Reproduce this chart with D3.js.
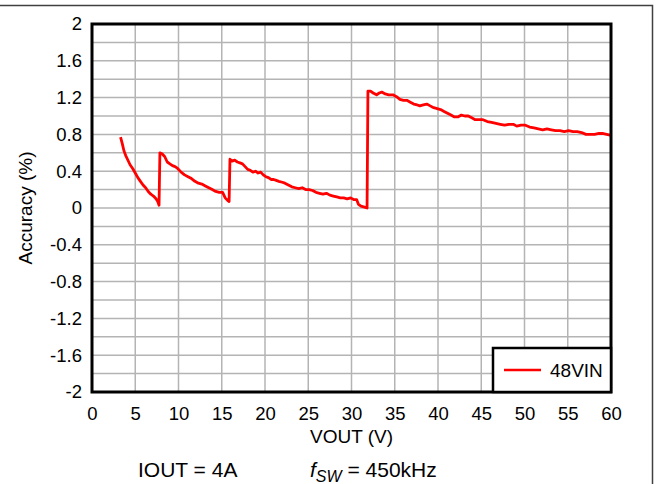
<!DOCTYPE html>
<html>
<head>
<meta charset="utf-8">
<script src="https://cdn.jsdelivr.net/npm/d3@7"></script>
<style>
  body { margin: 0; background: #fff; }
  svg text { font-family: "Liberation Sans", Arial, sans-serif; fill: #000; }
</style>
</head>
<body>
<div id="chart"></div>
<script>
// data
const vout = [3.3, 3.5, 3.7, 3.9, 4.1, 4.4, 4.7, 5.0, 5.3, 5.6, 5.9, 6.2, 6.5, 6.8, 7.1, 7.4, 7.6, 7.75,
  7.85, 8.1, 8.4, 8.7, 9.0, 9.3, 9.6, 9.9, 10.3, 10.7, 11.1, 11.5, 11.9, 12.3, 12.7, 13.1, 13.5, 13.9, 14.3, 14.7, 15.1, 15.4, 15.7, 15.85,
  15.95, 16.2, 16.5, 16.8, 17.1, 17.4, 17.7, 18.0, 18.3, 18.6, 18.9, 19.2, 19.5, 19.8, 20.1, 20.4, 20.7, 21.0, 21.3, 21.6, 22.0, 22.3, 22.7,
  23.1, 23.5, 23.9, 24.3, 24.7, 25.1, 25.5, 25.9, 26.3, 26.7, 27.1, 27.5, 27.9, 28.3, 28.7, 29.1, 29.5, 29.9, 30.3, 30.6, 30.8, 31.1, 31.5, 31.8,
  31.9, 32.2, 32.5, 32.9, 33.2, 33.5, 33.9, 34.3, 34.8, 35.2, 35.6, 36.0, 36.4, 36.8, 37.2, 37.6, 37.9, 38.3, 38.7, 39.1, 39.5, 39.9, 40.3,
  40.7, 41.1, 41.5, 41.9, 42.3, 42.7, 43.1, 43.5, 43.9, 44.3, 44.7, 45.2, 45.7, 46.2, 46.7, 47.2, 47.7, 48.2, 48.7, 49.1, 49.6, 50.1, 50.6,
  51.1, 51.6, 52.1, 52.6, 53.1, 53.6, 54.1, 54.6, 55.1, 55.6, 56.1, 56.6, 57.1, 57.6, 58.1, 58.6, 59.0, 59.5, 60];
const accuracy48 = [0.77, 0.70, 0.62, 0.57, 0.53, 0.47, 0.43, 0.38, 0.33, 0.29, 0.25, 0.22, 0.18, 0.15, 0.13, 0.10, 0.07, 0.03,
  0.60, 0.59, 0.56, 0.50, 0.48, 0.46, 0.45, 0.43, 0.39, 0.36, 0.34, 0.32, 0.29, 0.27, 0.26, 0.24, 0.22, 0.20, 0.18, 0.17, 0.17, 0.11, 0.08, 0.07,
  0.53, 0.51, 0.52, 0.50, 0.49, 0.48, 0.45, 0.42, 0.41, 0.39, 0.40, 0.38, 0.39, 0.36, 0.34, 0.33, 0.31, 0.31, 0.30, 0.29, 0.28, 0.27, 0.25,
  0.23, 0.22, 0.21, 0.22, 0.20, 0.20, 0.19, 0.17, 0.16, 0.15, 0.16, 0.14, 0.13, 0.12, 0.11, 0.11, 0.10, 0.11, 0.09, 0.09, 0.04, 0.02, 0.01, 0.00,
  1.27, 1.27, 1.25, 1.23, 1.25, 1.26, 1.24, 1.23, 1.23, 1.21, 1.18, 1.17, 1.17, 1.15, 1.13, 1.12, 1.11, 1.12, 1.13, 1.11, 1.09, 1.08, 1.07,
  1.05, 1.03, 1.01, 0.99, 0.99, 1.01, 1.00, 1.00, 0.98, 0.96, 0.96, 0.96, 0.94, 0.93, 0.92, 0.91, 0.90, 0.91, 0.91, 0.89, 0.90, 0.90, 0.88,
  0.87, 0.86, 0.85, 0.86, 0.85, 0.84, 0.84, 0.83, 0.84, 0.83, 0.83, 0.82, 0.80, 0.80, 0.80, 0.81, 0.81, 0.80, 0.79];
const xTicks = [0, 5, 10, 15, 20, 25, 30, 35, 40, 45, 50, 55, 60];
const yTicks = [-2, -1.6, -1.2, -0.8, -0.4, 0, 0.4, 0.8, 1.2, 1.6, 2];
const yGrid = d3.range(-20, 21, 2).map(v => v / 10);
const seriesName = '48VIN';

const W = 656, H = 484;
const margin = {top: 24, right: 45, bottom: 92, left: 92};
const width = W - margin.left - margin.right;
const height = H - margin.top - margin.bottom;
const FONT = '"Liberation Sans", Arial, sans-serif';

const svg = d3.select('#chart').append('svg')
  .attr('width', W).attr('height', H);

// outer frame (top and right edges only)
svg.append('path')
  .attr('d', `M0,5.5 H652.5 V${H}`)
  .attr('fill', 'none').attr('stroke', '#404040').attr('stroke-width', 1.5);

const g = svg.append('g').attr('transform', `translate(${margin.left},${margin.top})`);

const x = d3.scaleLinear().domain([0, 60]).range([0, width]);
const y = d3.scaleLinear().domain([-2, 2]).range([height, 0]);

// grid
g.append('g').selectAll('line').data(xTicks).join('line')
  .attr('x1', d => x(d)).attr('x2', d => x(d))
  .attr('y1', 0).attr('y2', height)
  .attr('stroke', '#b4b4b4').attr('stroke-width', 1.5);
g.append('g').selectAll('line').data(yGrid).join('line')
  .attr('x1', 0).attr('x2', width)
  .attr('y1', d => y(d)).attr('y2', d => y(d))
  .attr('stroke', '#b4b4b4').attr('stroke-width', 1.5);

// axes (labels only), plain hyphen for negatives
const xAxis = g.append('g').attr('transform', `translate(0,${height})`)
  .call(d3.axisBottom(x).tickValues(xTicks).tickSize(0).tickPadding(15).tickFormat(d => String(d)));
const yAxis = g.append('g')
  .call(d3.axisLeft(y).tickValues(yTicks).tickSize(0).tickPadding(10).tickFormat(d => String(+d.toFixed(1))));
[xAxis, yAxis].forEach(a => {
  a.select('.domain').remove();
  a.attr('font-size', 18.5).attr('font-family', FONT);
  a.selectAll('text').attr('fill', '#000');
});

// line
const pts = vout.map((v, i) => [v, accuracy48[i]]);
g.append('path')
  .datum(pts)
  .attr('fill', 'none')
  .attr('stroke', '#ff0000')
  .attr('stroke-width', 2.8)
  .attr('stroke-linejoin', 'round')
  .attr('d', d3.line().x(d => x(d[0])).y(d => y(d[1])));

// plot border
g.append('rect')
  .attr('x', 0).attr('y', 0).attr('width', width).attr('height', height)
  .attr('fill', 'none').attr('stroke', '#000').attr('stroke-width', 3);

// legend
const lg = g.append('g').attr('transform', `translate(${width - 118},${height - 44})`);
lg.append('rect').attr('width', 118).attr('height', 44)
  .attr('fill', '#fff').attr('stroke', '#000').attr('stroke-width', 2.5);
lg.append('line').attr('x1', 11).attr('x2', 48).attr('y1', 22).attr('y2', 22)
  .attr('stroke', '#ff0000').attr('stroke-width', 2.5);
lg.append('text').attr('x', 57).attr('y', 29).attr('font-size', 19).text(seriesName);

// axis titles
svg.append('text')
  .attr('x', margin.left + width / 2).attr('y', 443)
  .attr('text-anchor', 'middle').attr('font-size', 19).text('VOUT (V)');
svg.append('text')
  .attr('transform', `translate(32,${margin.top + height / 2}) rotate(-90)`)
  .attr('text-anchor', 'middle').attr('font-size', 19).text('Accuracy (%)');

// conditions
svg.append('text').attr('x', 138).attr('y', 477).attr('font-size', 21).text('IOUT = 4A');
const cond = svg.append('text').attr('x', 310).attr('y', 477).attr('font-size', 21);
cond.append('tspan').attr('font-style', 'italic').text('f');
cond.append('tspan').attr('font-style', 'italic').attr('font-size', 16).attr('dy', 5).text('SW');
cond.append('tspan').attr('dy', -5).text(' = 450kHz');
</script>
</body>
</html>
